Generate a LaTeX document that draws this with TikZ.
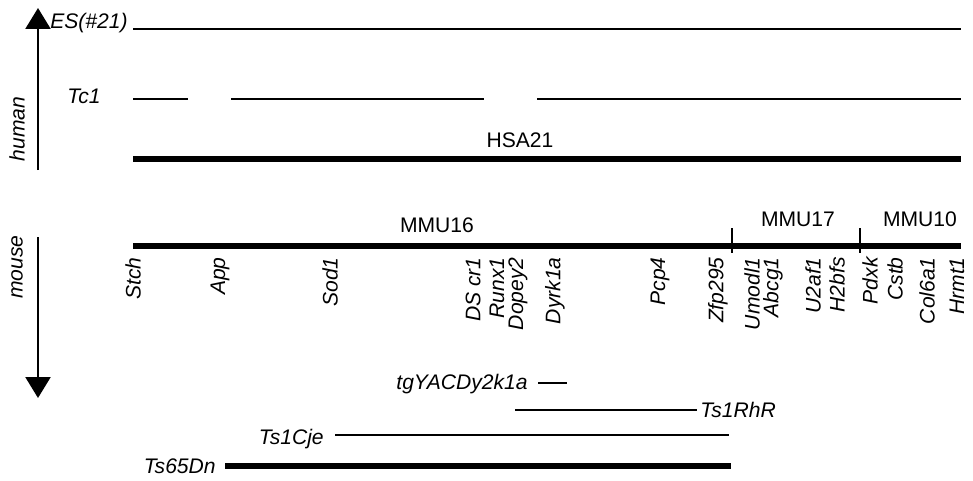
\documentclass[tikz,border=0pt]{standalone}
\usepackage{fontspec}
\setmainfont{Liberation Sans}
\usetikzlibrary{arrows.meta,positioning}
\begin{document}
\begin{tikzpicture}[x=0.02cm,y=-0.02cm,>={Triangle[length=4.2mm,width=5mm]}]
  \tikzstyle{txt}=[inner sep=0pt,font=\fontsize{12}{14}\selectfont]
  \tikzstyle{lab}=[txt,font=\fontsize{12}{14}\selectfont\itshape]
  \tikzstyle{gene}=[lab,rotate=90,anchor=east]
  \tikzstyle{chr}=[line width=3.2pt]
  \tikzstyle{seg}=[line width=1.35pt]
  \useasboundingbox (0,0) rectangle (973,480);
  % species axes
  \coordinate (hlo) at (38,170);
  \coordinate (hhi) at (38,8);
  \draw[seg,->] (hlo) -- (hhi);
  \node[lab,rotate=90] (human) at (17,129) {human};
  \coordinate (mhi) at (38,237);
  \coordinate (mlo) at (38,398);
  \draw[seg,->] (mhi) -- (mlo);
  \node[lab,rotate=90] (mouse) at (17,267) {mouse};
  % human chromosome 21
  \node[lab,anchor=base east] (es) at (128,29) {ES(\#21)};
  \coordinate (es1) at (133,29);
  \coordinate (es2) at (961,29);
  \draw[seg] (es1) -- (es2);
  \node[lab,anchor=base east] (tc) at (101,103) {Tc1};
  \coordinate (tca) at (133,99);
  \coordinate (tcb) at (188,99);
  \coordinate (tcc) at (231,99);
  \coordinate (tcd) at (484,99);
  \coordinate (tce) at (537,99);
  \coordinate (tcf) at (961,99);
  \draw[seg] (tca) -- (tcb);
  \draw[seg] (tcc) -- (tcd);
  \draw[seg] (tce) -- (tcf);
  \node[txt,anchor=base] (hsa) at (520,147) {HSA21};
  \coordinate (hsa1) at (133,159);
  \coordinate (hsa2) at (961,159);
  \draw[chr] (hsa1) -- (hsa2);
  % mouse chromosomes
  \coordinate (mmu1) at (133,246);
  \coordinate (mmu2) at (961,246);
  \draw[chr] (mmu1) -- (mmu2);
  \coordinate (t1a) at (732,228);
  \coordinate (t1b) at (732,253);
  \coordinate (t2a) at (860,228);
  \coordinate (t2b) at (860,253);
  \draw[seg] (t1a) -- (t1b);
  \draw[seg] (t2a) -- (t2b);
  \node[txt,anchor=base] (m16) at (437,232) {MMU16};
  \node[txt,anchor=base] (m17) at (798,226) {MMU17};
  \node[txt,anchor=base] (m10) at (920,226) {MMU10};
  % genes
  \node[gene] (stch) at (133,257) {Stch};
  \node[gene] (app) at (220,257) {App};
  \node[gene] (sod) at (330,257) {Sod1};
  \node[gene] (dscr) at (473,257) {DS cr1};
  \node[gene] (runx) at (497,257) {Runx1};
  \node[gene] (dopey) at (518,257) {Dopey2};
  \node[gene] (dyrk) at (555,257) {Dyrk1a};
  \node[gene] (pcp) at (660,257) {Pcp4};
  \node[gene] (zfp) at (718,257) {Zfp295};
  \node[gene] (umodl) at (752,257) {Umodl1};
  \node[gene] (abcg) at (773,257) {Abcg1};
  \node[gene] (u2af) at (813,257) {U2af1};
  \node[gene] (h2bfs) at (837,257) {H2bfs};
  \node[gene] (pdxk) at (870,257) {Pdxk};
  \node[gene] (cstb) at (895,257) {Cstb};
  \node[gene] (col) at (927,257) {Col6a1};
  \node[gene] (hrmt) at (957,257) {Hrmt1};
  % models
  \node[lab,anchor=base east] (tg) at (528,389) {tgYACDy2k1a};
  \coordinate (tg1) at (538,383);
  \coordinate (tg2) at (567,383);
  \draw[seg] (tg1) -- (tg2);
  \coordinate (rhr1) at (515,410);
  \coordinate (rhr2) at (697,410);
  \draw[seg] (rhr1) -- (rhr2);
  \node[lab,anchor=west,right=3 of rhr2] (rhr) {Ts1RhR};
  \node[lab,anchor=base east] (cje) at (324,444) {Ts1Cje};
  \coordinate (cje1) at (335,435);
  \coordinate (cje2) at (729,435);
  \draw[seg] (cje1) -- (cje2);
  \node[lab,anchor=base east] (dn) at (216,473) {Ts65Dn};
  \coordinate (dn1) at (225,466);
  \coordinate (dn2) at (731,466);
  \draw[chr] (dn1) -- (dn2);
\end{tikzpicture}
\end{document}
